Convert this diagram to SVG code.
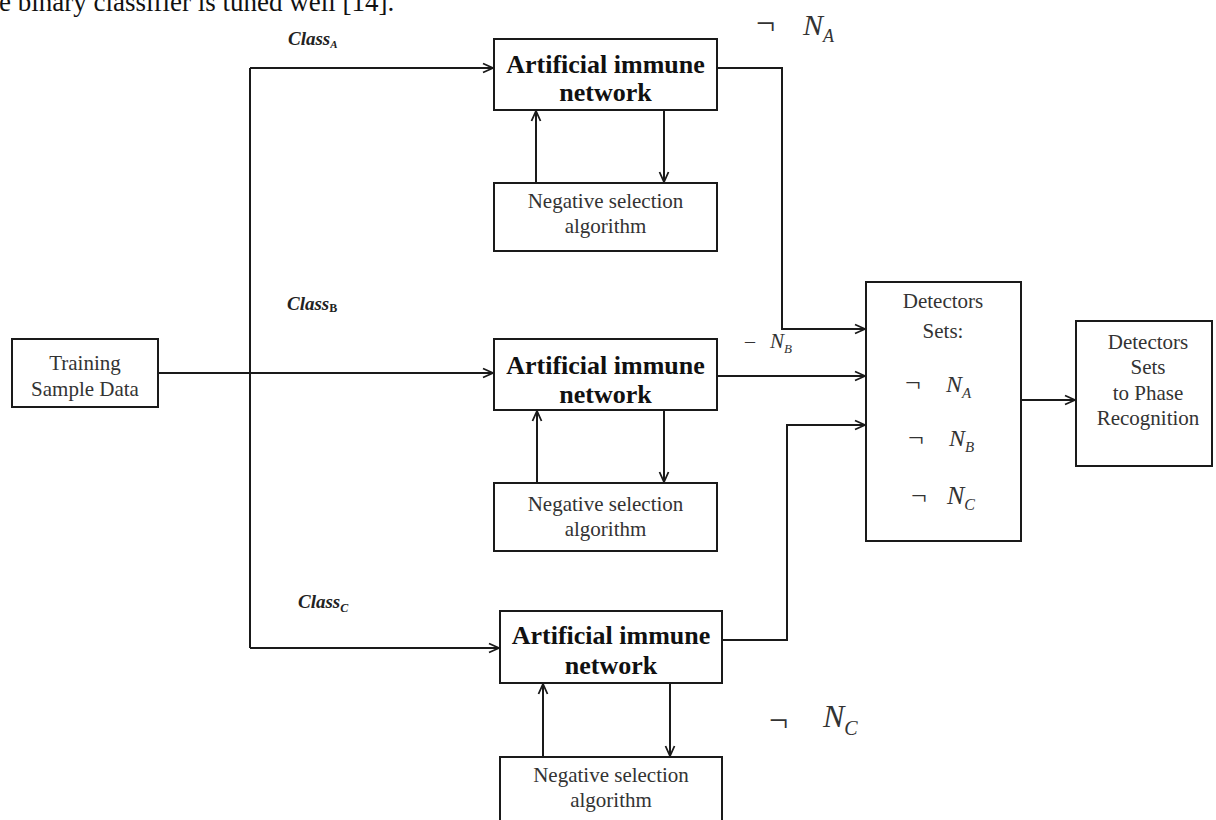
<svg xmlns="http://www.w3.org/2000/svg" width="1216" height="820" viewBox="0 0 1216 820">
<style>
.box{fill:#fff;stroke:#1a1a1a;stroke-width:2}
.ln{fill:none;stroke:#1a1a1a;stroke-width:2}
.ain{font-family:"Liberation Serif",serif;font-weight:bold;font-size:26px;fill:#111;text-anchor:middle}
.sm{font-family:"Liberation Serif",serif;font-size:21px;fill:#333;text-anchor:middle}
.cls{font-family:"Liberation Serif",serif;font-weight:bold;font-style:italic;font-size:19px;fill:#222}
.ni{font-family:"Liberation Serif",serif;font-style:italic;fill:#333}
.neg{font-family:"Liberation Serif",serif;fill:#333}
.top{font-family:"Liberation Serif",serif;font-size:27px;fill:#111}
</style>
<defs>
<marker id="arr" viewBox="0 0 12 12" refX="11" refY="6" markerWidth="12" markerHeight="12" markerUnits="userSpaceOnUse" orient="auto">
<path d="M1,1.5 L11,6 L1,10.5" fill="none" stroke="#1a1a1a" stroke-width="1.8"/>
</marker>
</defs>
<rect width="1216" height="820" fill="#fff"/>
<text class="top" x="-1" y="11">e binary classifier is tuned well [14].</text>

<g id="connectors">
<path class="ln" d="M158,373 H493" marker-end="url(#arr)"/>
<path class="ln" d="M250,68 V648"/>
<path class="ln" d="M250,68 H493" marker-end="url(#arr)"/>
<path class="ln" d="M250,648 H499" marker-end="url(#arr)"/>
<path class="ln" d="M717,68 H782 V329 H865" marker-end="url(#arr)"/>
<path class="ln" d="M717,376 H865" marker-end="url(#arr)"/>
<path class="ln" d="M722,640 H787 V425 H865" marker-end="url(#arr)"/>
<path class="ln" d="M1021,400 H1075" marker-end="url(#arr)"/>
<path class="ln" d="M536,183 V111" marker-end="url(#arr)"/>
<path class="ln" d="M664,110 V182" marker-end="url(#arr)"/>
<path class="ln" d="M537,483 V411" marker-end="url(#arr)"/>
<path class="ln" d="M664,410 V482" marker-end="url(#arr)"/>
<path class="ln" d="M543,757 V684" marker-end="url(#arr)"/>
<path class="ln" d="M670,683 V756" marker-end="url(#arr)"/>
</g>

<g id="labels">
<text class="cls" x="288" y="45">Class<tspan font-size="11" dy="3">A</tspan></text>
<text class="cls" x="287" y="310">Class<tspan font-size="12" font-style="normal" dy="2">B</tspan></text>
<text class="cls" x="298" y="608">Class<tspan font-size="12" dy="4">C</tspan></text>
<text class="neg" x="756" y="34" font-size="34">¬</text>
<text class="ni" x="803" y="35" font-size="30">N<tspan font-size="18" dy="7">A</tspan></text>
<text class="neg" x="745" y="348" font-size="20">–</text>
<text class="ni" x="770" y="348" font-size="21">N<tspan font-size="13" dy="5">B</tspan></text>
<text class="neg" x="769" y="731" font-size="34">¬</text>
<text class="ni" x="823" y="727" font-size="32">N<tspan font-size="20" dy="8">C</tspan></text>
</g>

<g id="training">
<rect class="box" x="12" y="339" width="146" height="68"/>
<text class="sm" x="85" y="370">Training</text>
<text class="sm" x="85" y="396">Sample Data</text>
</g>

<g id="ain-a">
<rect class="box" x="494" y="39" width="223" height="71"/>
<text class="ain" x="605.5" y="73">Artificial immune</text>
<text class="ain" x="605.5" y="101">network</text>
</g>
<g id="nsa-a">
<rect class="box" x="494" y="183" width="223" height="68"/>
<text class="sm" x="605.5" y="208">Negative selection</text>
<text class="sm" x="605.5" y="233">algorithm</text>
</g>

<g id="ain-b">
<rect class="box" x="494" y="339" width="223" height="71"/>
<text class="ain" x="605.5" y="374">Artificial immune</text>
<text class="ain" x="605.5" y="403">network</text>
</g>
<g id="nsa-b">
<rect class="box" x="494" y="483" width="223" height="68"/>
<text class="sm" x="605.5" y="511">Negative selection</text>
<text class="sm" x="605.5" y="536">algorithm</text>
</g>

<g id="ain-c">
<rect class="box" x="500" y="611" width="222" height="72"/>
<text class="ain" x="611" y="644">Artificial immune</text>
<text class="ain" x="611" y="674">network</text>
</g>
<g id="nsa-c">
<rect class="box" x="500" y="757" width="222" height="68"/>
<text class="sm" x="611" y="782">Negative selection</text>
<text class="sm" x="611" y="807">algorithm</text>
</g>

<g id="detectors">
<rect class="box" x="866" y="282" width="155" height="259"/>
<text class="sm" x="943" y="308">Detectors</text>
<text class="sm" x="943" y="338">Sets:</text>
<text class="neg" x="905" y="392" font-size="28">¬</text>
<text class="ni" x="946" y="392" font-size="24">N<tspan font-size="15" dy="6">A</tspan></text>
<text class="neg" x="908" y="447" font-size="28">¬</text>
<text class="ni" x="949" y="446" font-size="24">N<tspan font-size="15" dy="6">B</tspan></text>
<text class="neg" x="911" y="505" font-size="28">¬</text>
<text class="ni" x="947" y="504" font-size="26">N<tspan font-size="16" dy="6">C</tspan></text>
</g>

<g id="phase">
<rect class="box" x="1076" y="321" width="136" height="145"/>
<text class="sm" x="1148" y="349">Detectors</text>
<text class="sm" x="1148" y="374">Sets</text>
<text class="sm" x="1148" y="400">to Phase</text>
<text class="sm" x="1148" y="425">Recognition</text>
</g>
</svg>
